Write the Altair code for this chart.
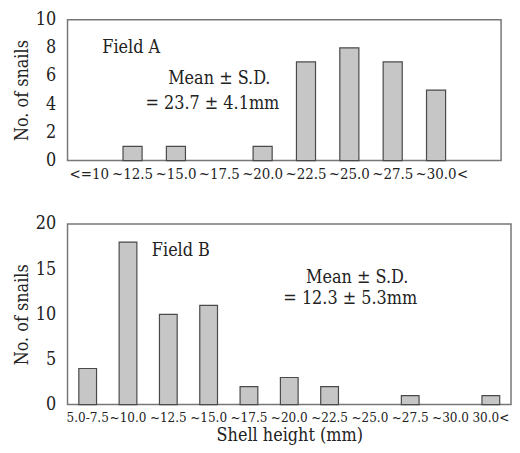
import altair as alt
import pandas as pd

# Field A
cats_a = ["<=10", "~12.5", "~15.0", "~17.5", "~20.0", "~22.5", "~25.0", "~27.5", "~30.0", "<"]
vals_a = [0, 1, 1, 0, 1, 7, 8, 7, 5, 0]
# Field B
cats_b = ["5.0-7.5", "~10.0", "~12.5", "~15.0", "~17.5", "~20.0", "~22.5", "~25.0", "~27.5", "~30.0", "30.0<"]
vals_b = [4, 18, 10, 11, 2, 3, 2, 0, 1, 0, 1]

ticks_a = [0, 2, 4, 6, 8, 10]
ticks_b = [0, 5, 10, 15, 20]

FONT = "DejaVu Serif Condensed"
BAR_FILL = "#c6c6c6"
BAR_STROKE = "#4a4a4a"

df_a = pd.DataFrame({"cat": cats_a, "n": vals_a})
df_b = pd.DataFrame({"cat": cats_b, "n": vals_b})


def panel(df, cats, ymax, yticks, w, h, xtitle, notes, xlabel_size, label_offset_cond=None):
    xaxis = dict(
        title=xtitle,
        labelAngle=0,
        ticks=False,
        domain=False,
        labelFont=FONT,
        labelFontSize=xlabel_size,
        labelColor="#222",
        labelPadding=6,
        labelOverlap=False,
        titleFont=FONT,
        titleFontSize=18,
        titleFontWeight="normal",
        titleColor="#222",
        titlePadding=3,
    )
    if label_offset_cond is not None:
        xaxis["labelOffset"] = label_offset_cond
    base = alt.Chart(df).transform_filter("datum.n > 0")
    bars = base.mark_bar(fill=BAR_FILL, stroke=BAR_STROKE, strokeWidth=1.2).encode(
        x=alt.X("cat:N", sort=cats,
                scale=alt.Scale(domain=cats, paddingInner=0.56, paddingOuter=0.28),
                axis=alt.Axis(**xaxis)),
        y=alt.Y("n:Q",
                scale=alt.Scale(domain=[0, ymax], nice=False),
                axis=alt.Axis(title="No. of snails", values=yticks, grid=False,
                              ticks=False, domain=False,
                              labelFont=FONT, labelFontSize=18, labelColor="#222",
                              labelPadding=12,
                              titleFont=FONT, titleFontSize=18,
                              titleFontWeight="normal", titleColor="#222",
                              titlePadding=4)),
    )
    layers = [bars]
    for txt, px, py, align in notes:
        layers.append(
            alt.Chart(pd.DataFrame({"t": [txt]})).mark_text(
                font=FONT, fontSize=18, color="#222", align=align, baseline="middle"
            ).encode(text="t:N", x=alt.value(px), y=alt.value(py))
        )
    return alt.layer(*layers).properties(
        width=w, height=h,
        view=alt.ViewBackground(stroke="#777", strokeWidth=1.5),
    )


top = panel(
    df_a, cats_a, 10, ticks_a, 437, 142, None,
    [("Field A", 35, 29, "left"),
     ("Mean ± S.D.", 153, 60, "center"),
     ("= 23.7 ± 4.1mm", 146, 85, "center")],
    15,
    label_offset_cond={"condition": {"test": "datum.label == '<'", "value": -17}, "value": 0},
)
bottom = panel(
    df_b, cats_b, 20, ticks_b, 447, 182, "Shell height (mm)",
    [("Field B", 85, 27, "left"),
     ("Mean ± S.D.", 292, 54, "center"),
     ("= 12.3 ± 5.3mm", 285, 76, "center")],
    13.5,
)

chart = alt.vconcat(top, bottom, spacing=32).properties(
    padding={"left": 4, "top": 0, "right": 0, "bottom": 0}
).configure(
    background="white",
)

chart.save("out.html", embed_options={"renderer": "svg", "actions": False})
